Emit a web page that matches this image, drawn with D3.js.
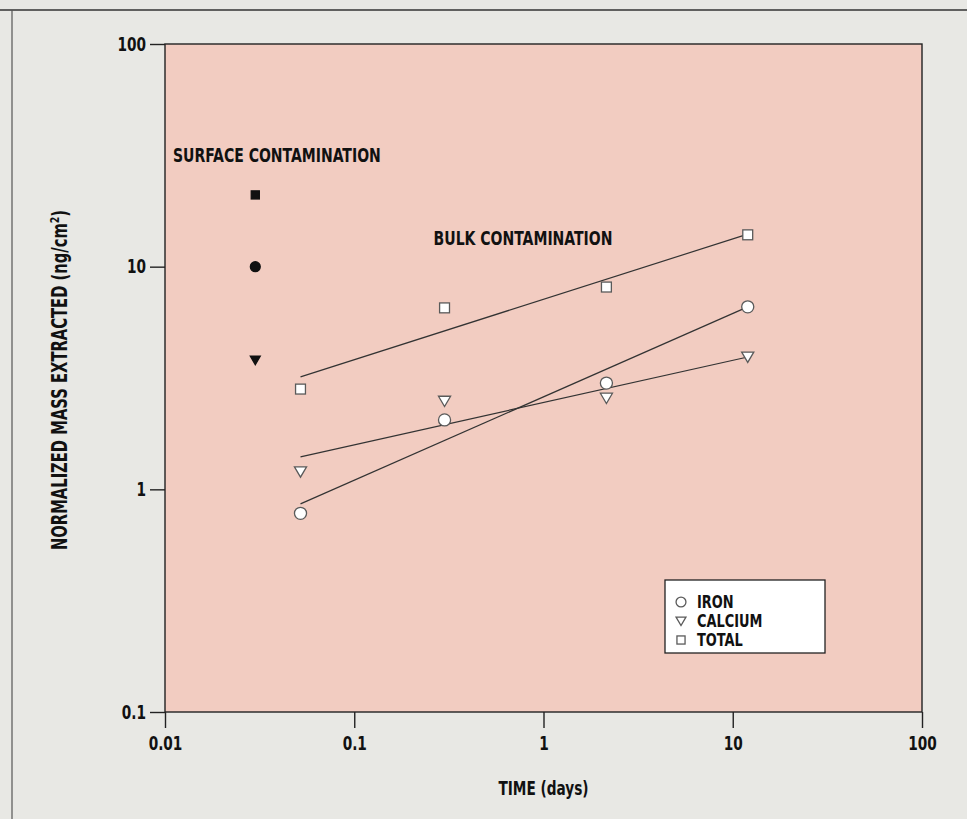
<!DOCTYPE html>
<html>
<head>
<meta charset="utf-8">
<script src="https://cdn.jsdelivr.net/npm/d3@7"></script>
<style>
  body { margin: 0; background: #e8e8e4; }
  svg text { font-family: "DejaVu Sans Condensed", "Liberation Sans Narrow", sans-serif; font-weight: bold; fill: #111; }
  .axis path, .axis line { stroke: #222; stroke-width: 1.4; }
  .axis text { font-size: 19px; }
</style>
</head>
<body>
<div id="chart"></div>
<script>
// values (log-log)
const times = [0.052, 0.30, 2.15, 12];
const iron = [0.78, 2.05, 3.0, 6.6];
const calcium = [1.20, 2.49, 2.57, 3.93];
const total = [2.82, 6.53, 8.1, 13.9];

// surface contamination points (filled)
const surfaceTime = 0.03;
const surfaceValues = [["total", 21], ["iron", 10], ["calcium", 3.8]];

// fitted lines, start and end
const fitTimes = [0.052, 12];
const ironFit = [0.86, 6.6];
const calciumFit = [1.40, 3.93];
const totalFit = [3.2, 14];

const xTicks = [0.01, 0.1, 1, 10, 100];
const xTickLabels = ["0.01", "0.1", "1", "10", "100"];
const yTicks = [0.1, 1, 10, 100];
const yTickLabels = ["0.1", "1", "10", "100"];

const legendItems = [["iron", "IRON"], ["calcium", "CALCIUM"], ["total", "TOTAL"]];

const width = 967, height = 819;
const squeeze = 0.8; // narrow the glyphs, the original type is condensed

const svg = d3.select("#chart").append("svg")
    .attr("width", width)
    .attr("height", height);

// page frame
svg.append("line").attr("x1", 0).attr("x2", width).attr("y1", 10).attr("y2", 10)
    .attr("stroke", "#333").attr("stroke-width", 1.5);
svg.append("line").attr("x1", 12).attr("x2", 12).attr("y1", 10).attr("y2", height)
    .attr("stroke", "#555").attr("stroke-width", 1.2);

const x = d3.scaleLog().domain([0.01, 100]).range([165, 922]);
const y = d3.scaleLog().domain([0.1, 100]).range([712, 44]);

// pink plot area
svg.append("rect")
    .attr("x", x(0.01)).attr("y", y(100))
    .attr("width", x(100) - x(0.01)).attr("height", y(0.1) - y(100))
    .attr("fill", "#f2ccc1")
    .attr("stroke", "#222").attr("stroke-width", 1.4);

svg.append("g")
    .attr("class", "axis")
    .attr("transform", `translate(${x(0.01)},0)`)
    .call(d3.axisLeft(y).tickValues(yTicks).tickSize(15).tickPadding(3)
        .tickFormat((d, i) => yTickLabels[i]))
    .call(g => g.select(".domain").remove())
    .call(g => g.selectAll("text")
        .attr("x", -19 / squeeze)
        .attr("transform", `scale(${squeeze},1)`));

svg.append("g")
    .attr("class", "axis")
    .attr("transform", `translate(0,${y(0.1)})`)
    .call(d3.axisBottom(x).tickValues(xTicks).tickSize(16).tickPadding(9)
        .tickFormat((d, i) => xTickLabels[i]))
    .call(g => g.select(".domain").remove())
    .call(g => g.selectAll("text").attr("transform", `scale(${squeeze},1)`));

// text helper, placed then squeezed sideways
function label(px, py, size, anchor, rot) {
  return svg.append("g")
      .attr("transform", `translate(${px},${py})` + (rot ? ` rotate(${rot})` : ""))
    .append("text")
      .attr("transform", `scale(${squeeze},1)`)
      .attr("text-anchor", anchor)
      .attr("font-size", size);
}

// axis titles
label(x(1), 795, 19, "middle").text("TIME (days)");

const yl = label(67, (y(100) + y(0.1)) / 2 + 2, 20.5, "middle", -90);
yl.append("tspan").text("NORMALIZED MASS EXTRACTED (ng/cm");
yl.append("tspan").attr("font-size", 13).attr("dy", -8).text("2");
yl.append("tspan").attr("dy", 8).text(")");

// annotations
label(173, 162, 19.5, "start").text("SURFACE CONTAMINATION");
label(523, 245, 19.5, "middle").text("BULK CONTAMINATION");

// fit lines
const line = d3.line().x(d => x(d[0])).y(d => y(d[1]));
[ironFit, calciumFit, totalFit].forEach(f => {
  svg.append("path")
      .datum(fitTimes.map((t, i) => [t, f[i]]))
      .attr("d", line)
      .attr("fill", "none")
      .attr("stroke", "#333")
      .attr("stroke-width", 1.2);
});

// marker drawing
function marker(g, kind, cx, cy, filled, s) {
  const fill = filled ? "#111" : "#fff";
  const stroke = filled ? "#111" : "#5a5a5a";
  if (kind == "iron") {
    g.append("circle").attr("cx", cx).attr("cy", cy).attr("r", s * 0.55)
        .attr("fill", fill).attr("stroke", stroke).attr("stroke-width", 1.3);
  } else if (kind == "total") {
    g.append("rect").attr("x", cx - s * 0.45).attr("y", cy - s * 0.45)
        .attr("width", s * 0.9).attr("height", s * 0.9)
        .attr("fill", fill).attr("stroke", stroke).attr("stroke-width", 1.3);
  } else {
    const h = s * 0.55;
    g.append("path")
        .attr("d", `M${cx - h},${cy - h * 0.8}L${cx + h},${cy - h * 0.8}L${cx},${cy + h * 0.9}Z`)
        .attr("fill", fill).attr("stroke", stroke).attr("stroke-width", 1.3);
  }
}

const pts = svg.append("g");
const series = { iron: iron, calcium: calcium, total: total };
Object.keys(series).forEach(k => {
  series[k].forEach((v, i) => marker(pts, k, x(times[i]), y(v), false, 11));
});
surfaceValues.forEach(d => marker(pts, d[0], x(surfaceTime), y(d[1]), true, 9));

// legend
const lg = svg.append("g");
lg.append("rect").attr("x", 665).attr("y", 580).attr("width", 160).attr("height", 73)
    .attr("fill", "#fff").attr("stroke", "#222").attr("stroke-width", 1.3);
legendItems.forEach((d, i) => {
  const yy = 602 + i * 19;
  marker(lg, d[0], 681, yy, false, 9);
  lg.append("g").attr("transform", `translate(697,${yy + 6})`)
    .append("text").attr("transform", `scale(${squeeze},1)`)
      .attr("font-size", 18).text(d[1]);
});
</script>
</body>
</html>
